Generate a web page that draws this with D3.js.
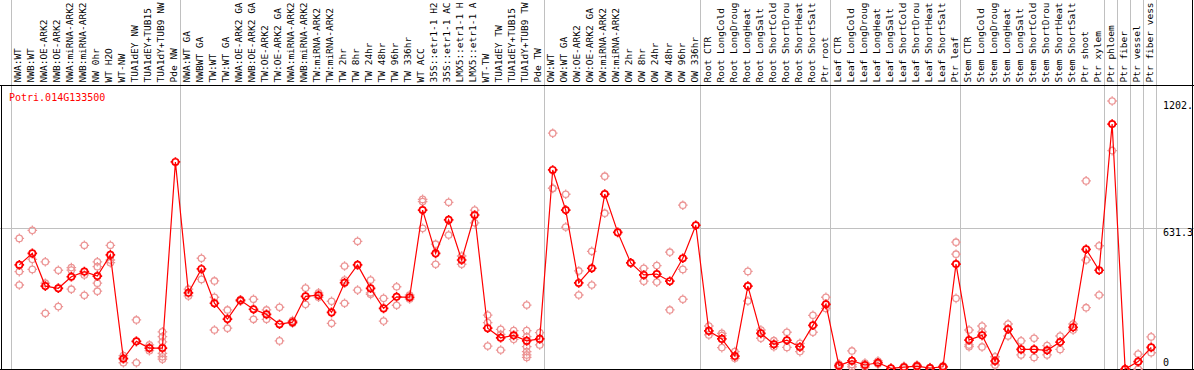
<!DOCTYPE html>
<html>
<head>
<meta charset="utf-8">
<script src="https://cdn.jsdelivr.net/npm/d3@7"></script>
<style>
  body { margin: 0; background: #fff; overflow: hidden; }
  svg { display: block; font-family: "DejaVu Sans Mono", monospace; }
</style>
</head>
<body>
<div id="wrapper"></div>
<script>

const geneName = "Potri.014G133500"

// labels as printed (the header cuts them at 14 characters)
const sampleLabels = [
  "NWA:WT", "NWB:WT", "NWA:OE-ARK2", "NWB:OE-ARK2", "NWA:miRNA-ARK2", "NWB:miRNA-ARK2",
  "NW 0hr", "WT H2O", "WT-NW", "TUA1dEY NW", "TUA1dEY+TUB15", "TUA1dY+TUB9 NW", "Pde NW",
  "NWA:WT GA", "NWBWT GA", "TW:WT", "TW:WT GA", "NWA:OE-ARK2 GA", "NWB:OE-ARK2 GA",
  "TW:OE-ARK2", "TW:OE-ARK2 GA", "NWA:miRNA-ARK2", "NWB:miRNA-ARK2", "TW:miRNA-ARK2",
  "TW:miRNA-ARK2", "TW 2hr", "TW 8hr", "TW 24hr", "TW 48hr", "TW 96hr", "TW 336hr",
  "WT ACC", "35S::etr1-1 H2", "35S::etr1-1 AC", "LMX5::etr1-1 H", "LMX5::etr1-1 A",
  "WT-TW", "TUA1dEY TW", "TUA1dEY+TUB15", "TUA1dY+TUB9 TW", "Pde TW",
  "OW:WT", "OW:WT GA", "OW:OE-ARK2", "OW:OE-ARK2 GA", "OW:miRNA-ARK2", "OW:miRNA-ARK2",
  "OW 2hr", "OW 8hr", "OW 24hr", "OW 48hr", "OW 96hr", "OW 336hr",
  "Root CTR", "Root LongCold", "Root LongDroug", "Root LongHeat", "Root LongSalt",
  "Root ShortCold", "Root ShortDrou", "Root ShortHeat", "Root ShortSalt", "Ptr root",
  "Leaf CTR", "Leaf LongCold", "Leaf LongDroug", "Leaf LongHeat", "Leaf LongSalt",
  "Leaf ShortCold", "Leaf ShortDrou", "Leaf ShortHeat", "Leaf ShortSalt", "Ptr leaf",
  "Stem CTR", "Stem LongCold", "Stem LongDroug", "Stem LongHeat", "Stem LongSalt",
  "Stem ShortCold", "Stem ShortDrou", "Stem ShortHeat", "Stem ShortSalt", "Ptr shoot",
  "Ptr xylem", "Ptr phloem", "Ptr fiber", "Ptr vessel", "Ptr fiber vess"
]

const meanValues = [
  467, 519, 372, 362, 414, 437, 417, 512, 46, 124, 94, 94, 929,
  342, 449, 295, 224, 308, 268, 245, 201, 210, 326, 331, 254, 387, 467, 362, 272, 324, 322,
  713, 519, 669, 489, 691, 183, 140, 151, 126, 135,
  893, 713, 386, 452, 785, 613, 476, 422, 426, 394, 497, 645,
  171, 135, 58, 372, 160, 111, 129, 99, 196, 290,
  15, 37, 18, 28, 3, 8, 13, 4, 10, 471,
  130, 151, 36, 179, 88, 88, 84, 121, 187, 537, 443,
  1099, 0, 33, 97
]

const replicateValues = [
  [586, 437, 377], [622, 492, 447], [481, 385, 250], [443, 363, 280], [455, 444, 358],
  [555, 422, 331], [481, 459, 385, 349], [555, 489, 477], [28, 50, 60], [220, 124, 28],
  [108, 94, 82], [167, 145, 122, 70, 55, 44], [],
  [358, 328], [497, 402], [395, 322, 175], [265, 183], [311, 305], [313, 223], [265, 223],
  [277, 126], [217, 205], [363, 290], [342, 322], [304, 205], [462, 399, 295], [573, 354],
  [399, 342, 335], [317, 215], [369, 286], [332, 314],
  [761, 751, 631], [560, 470], [748, 601], [507, 470], [713, 656], [242, 208, 103],
  [178, 155, 85], [172, 133], [287, 172, 145, 100, 78, 63, 52], [163, 108],
  [1058, 811, 810], [784, 637], [440, 332], [528, 377], [865, 699], [], [],
  [452, 394], [464, 390], [524, 265], [735, 447, 313], [],
  [193, 153], [160, 150, 96], [78, 48], [438, 305], [175, 138], [127, 100], [165, 97],
  [115, 78], [241, 165], [322, 272],
  [22, 9], [81, 10, 20], [27, 9], [36, 22], [3], [12, 4], [18, 8], [6, 2], [14, 6],
  [569, 515, 317],
  [175, 108, 100], [193, 167, 99], [55, 18], [202, 148], [126, 63], [138, 52], [105, 63],
  [148, 88], [202, 175], [844, 489, 275], [553, 332],
  [1202.5, 980], [0], [67, 0], [144, 73]
]

// column index where each tissue block starts (gray separators)
const groupStarts = [0, 13, 41, 53, 63, 73, 84, 85, 86, 87, 88]

const yTickValues = [0, 631.3, 1202.5]
const yTickLabels = ["0", "631.3", "1202."]
const yMax = 1262.6

function drawProfile() {

  // 1. Dimensions
  let dimensions = {
    width: 1194,
    height: 370,
    headerHeight: 85,
    colStart: 10.7,
    colStep: 13.01,
    plotTop: 87.6,
    plotBottom: 369,
  }

  // 2. Canvas
  const wrapper = d3.select("#wrapper")
    .append("svg")
      .attr("width", dimensions.width)
      .attr("height", dimensions.height)

  // 3. Scales
  const xScale = d3.scaleLinear()
    .domain([0, sampleLabels.length])
    .range([dimensions.colStart, dimensions.colStart + sampleLabels.length * dimensions.colStep])

  const pointX = i => xScale(i) + 8.6

  const yScale = d3.scaleLinear()
    .domain([0, yMax])
    .range([dimensions.plotBottom, dimensions.plotTop])

  // 4. Grid + frame
  wrapper.append("g")
    .selectAll("line")
    .data(groupStarts)
    .join("line")
      .attr("x1", d => Math.round(xScale(d)) + 0.5)
      .attr("x2", d => Math.round(xScale(d)) + 0.5)
      .attr("y1", 0)
      .attr("y2", dimensions.height)
      .attr("stroke", "#c0c0c0")
      .attr("stroke-width", 1)

  wrapper.append("line")
      .attr("x1", 0)
      .attr("x2", dimensions.width)
      .attr("y1", Math.round(yScale(631.3)) + 0.5)
      .attr("y2", Math.round(yScale(631.3)) + 0.5)
      .attr("stroke", "#c0c0c0")

  wrapper.append("line")
      .attr("x1", 0).attr("x2", dimensions.width)
      .attr("y1", dimensions.headerHeight + 0.5).attr("y2", dimensions.headerHeight + 0.5)
      .attr("stroke", "black")

  wrapper.append("line")
      .attr("x1", 0).attr("x2", dimensions.width)
      .attr("y1", dimensions.plotBottom + 0.5).attr("y2", dimensions.plotBottom + 0.5)
      .attr("stroke", "black")

  wrapper.append("line")
      .attr("x1", 1.5).attr("x2", 1.5)
      .attr("y1", dimensions.headerHeight).attr("y2", dimensions.height)
      .attr("stroke", "black")

  wrapper.append("line")
      .attr("x1", 1192.5).attr("x2", 1192.5)
      .attr("y1", 0).attr("y2", dimensions.height)
      .attr("stroke", "black")

  // 5. Column labels
  wrapper.append("g")
    .selectAll("text")
    .data(sampleLabels)
    .join("text")
      .attr("transform", (d, i) => `translate(${xScale(i) + 10.3}, 82.5) rotate(-90)`)
      .attr("font-size", "9.5px")
      .attr("fill", "black")
      .text(d => d)

  // 6. Right axis labels
  wrapper.append("g")
    .selectAll("text")
    .data(yTickValues)
    .join("text")
      .attr("x", 1163)
      .attr("y", d => Math.min(yScale(d) + 8, 365.5))
      .attr("font-size", "10px")
      .attr("fill", "black")
      .text((d, i) => yTickLabels[i])

  wrapper.append("text")
      .attr("x", 9)
      .attr("y", 100.5)
      .attr("font-size", "10px")
      .attr("fill", "red")
      .text(geneName)

  // 7. Data
  const markerPath = r => {
    const t0 = r - 0.5, t1 = r + 1.6
    return `M${-r},0a${r},${r} 0 1,0 ${2 * r},0a${r},${r} 0 1,0 ${-2 * r},0`
      + `M0,${-t0}V${-t1}M0,${t0}V${t1}M${-t0},0H${-t1}M${t0},0H${t1}`
  }

  const replicatePoints = replicateValues.flatMap((reps, i) => reps.map(v => ({ i, v })))

  wrapper.append("g")
    .selectAll("path")
    .data(replicatePoints)
    .join("path")
      .attr("transform", d => `translate(${pointX(d.i)}, ${yScale(d.v)})`)
      .attr("d", markerPath(3.2))
      .attr("fill", "none")
      .attr("stroke", "#ec9595")
      .attr("stroke-width", 1.3)

  const lineGenerator = d3.line()
    .x((d, i) => pointX(i))
    .y(d => yScale(d))

  wrapper.append("path")
      .datum(meanValues)
      .attr("d", lineGenerator)
      .attr("fill", "none")
      .attr("stroke", "red")
      .attr("stroke-width", 1.2)

  wrapper.append("g")
    .selectAll("path")
    .data(meanValues)
    .join("path")
      .attr("transform", (d, i) => `translate(${pointX(i)}, ${yScale(d)})`)
      .attr("d", markerPath(3.2))
      .attr("fill", "none")
      .attr("stroke", "red")
      .attr("stroke-width", 1.7)
}
drawProfile()
</script>
</body>
</html>
